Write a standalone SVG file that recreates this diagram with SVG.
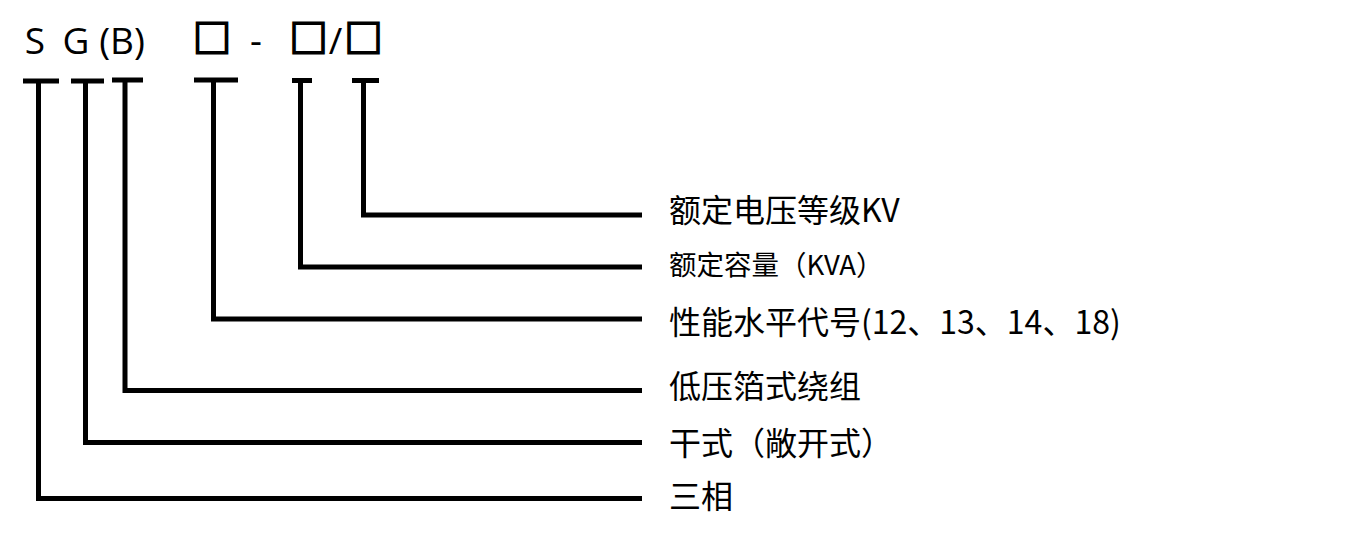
<svg xmlns="http://www.w3.org/2000/svg" width="1363" height="535" viewBox="0 0 1363 535">
<style>
.bg{fill:#ffffff}
.code{font-family:"Open Sans","Noto Sans CJK SC",sans-serif;font-size:37px;fill:#000;text-anchor:middle}
.box{font-family:"Noto Sans CJK SC",sans-serif;font-size:38px;fill:#000;stroke:#000;stroke-width:2.2;text-anchor:middle}
.lbl{font-family:"Noto Sans CJK SC","Microsoft YaHei",sans-serif;font-size:32px;fill:#000}
.lbl-s{font-size:27.5px}
.conn{fill:none;stroke:#000;stroke-width:5;stroke-linecap:butt;stroke-linejoin:miter}
</style>
<rect class="bg" x="0" y="0" width="1363" height="535"/>

<g id="header-codes">
  <g id="code-S"><text class="code" x="35" y="53.5">S</text></g>
  <g id="code-G"><text class="code" x="76" y="53.5">G</text></g>
  <g id="code-B"><text class="code" x="122" y="53.5">(B)</text></g>
  <g id="code-perf"><text class="box" x="212" y="51.5">□</text></g>
  <g id="code-dash"><text class="code" x="256" y="53.5">-</text></g>
  <g id="code-cap"><text class="box" x="308.5" y="51.5">□</text></g>
  <g id="code-slash"><text class="code" x="335.5" y="53.5">/</text></g>
  <g id="code-volt"><text class="box" x="363.5" y="51.5">□</text></g>
</g>

<g id="connectors">
  <path class="conn" d="M23 81 H59 M38.5 81 V498.5 H642"/>
  <path class="conn" d="M71 81 H104 M85.5 81 V442.5 H642"/>
  <path class="conn" d="M112 80 H143 M125 80 V390.5 H642"/>
  <path class="conn" d="M194 80 H238 M213.5 80 V319 H642"/>
  <path class="conn" d="M292 80.5 H312 M300.5 80.5 V267 H642"/>
  <path class="conn" d="M352 80.5 H379 M363.5 80.5 V215 H642"/>
</g>

<g id="label-voltage"><text class="lbl" x="669" y="222">额定电压等级KV</text></g>
<g id="label-capacity"><text class="lbl lbl-s" x="669" y="275">额定容量（KVA）</text></g>
<g id="label-performance"><text class="lbl" x="669" y="334">性能水平代号(12、13、14、18)</text></g>
<g id="label-winding"><text class="lbl" x="669" y="398">低压箔式绕组</text></g>
<g id="label-dry"><text class="lbl" x="669" y="455">干式（敞开式）</text></g>
<g id="label-phase"><text class="lbl" x="669" y="508">三相</text></g>
</svg>
